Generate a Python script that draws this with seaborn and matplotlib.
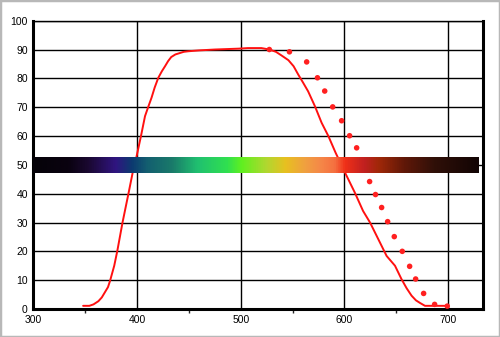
import numpy as np
import matplotlib
matplotlib.use('Agg')
import matplotlib.pyplot as plt
import seaborn as sns
from matplotlib.colors import LinearSegmentedColormap
from matplotlib.patches import Rectangle

# transmission curve (wavelength nm, %)
curve_x = [348, 354, 358, 362.7, 366, 369, 372, 374, 378, 381, 386, 391.6, 396.4,
           399.6, 403.8, 407.7, 411, 414, 417, 420.5, 424, 427, 430, 433, 437,
           441.5, 445, 449.5, 460, 475, 497.7, 507, 520, 527.6, 534, 539.5,
           546, 551, 555.5, 560, 565, 571.6, 578, 584.5, 591.5, 600.6, 610, 618,
           624.7, 632.7, 640.7, 648.8, 655, 660, 664.8, 669, 672.9, 677.7, 700]
curve_y = [1.1, 1.1, 1.6, 2.7, 4.0, 5.8, 7.6, 9.8, 15, 20.2, 30, 39.8, 48.4,
           53, 60, 66.9, 70.3, 73.3, 76.8, 80.2, 82.5, 84.2, 86, 87.4, 88.3,
           88.8, 89.2, 89.4, 89.7, 90, 90.3, 90.5, 90.5, 90, 89.2, 87.9,
           86.3, 84.2, 81.3, 78.6, 75.5, 70.3, 64.6, 60, 54.2, 47.3, 40.4, 34,
           30, 24.2, 18.4, 15, 10.4, 7.2, 4.6, 3.0, 2.1, 1.1, 1.1]

# measured points
dot_x = [527.6, 547, 563.6, 574, 581, 588.7, 597.3, 605, 611.8, 618, 624.3, 630,
         635.9, 641.7, 648.1, 655.8, 662.9, 668.7, 676.4, 687, 699.2]
dot_y = [90, 89.2, 85.7, 80.2, 75.6, 70.1, 65.3, 60.1, 55.9, 50, 44.2, 39.7,
         35.2, 30.3, 25.1, 20, 14.8, 10.4, 5.4, 1.6, 1.0]

# spectrum band colours along wavelength
spec_x = [300, 334, 353, 380, 396, 411, 435, 460, 489, 503, 527, 546, 565, 580,
          594, 604, 623, 637, 662, 691, 734]
spec_c = ['#050208', '#0a0210', '#1a0830', '#301580', '#0c3a70', '#135f70', '#1a7a6a',
          '#20c070', '#30e050', '#60f020', '#b0d830', '#e8c020', '#f0a040', '#f58848',
          '#f57040', '#f03018', '#c02020', '#a02808', '#601808', '#301008', '#120404']

x_ticks = [300, 400, 500, 600, 700]
y_ticks = list(range(0, 101, 10))

sns.set_style('white')
plt.rcParams['font.family'] = ['Liberation Sans', 'DejaVu Sans']

fig = plt.figure(figsize=(5, 3.37), dpi=100)
ax = fig.add_axes([0.0667, 0.0831, 0.9, 0.8555])

sns.lineplot(x=curve_x, y=curve_y, color='#ff1010', linewidth=1.4, ax=ax,
             sort=False, zorder=3)
sns.scatterplot(x=dot_x, y=dot_y, color='#ff2020', s=16, edgecolor='none', ax=ax,
                zorder=3)

# spectrum band drawn over the data
pos = [(v - spec_x[0]) / (spec_x[-1] - spec_x[0]) for v in spec_x]
cmap = LinearSegmentedColormap.from_list('spec', list(zip(pos, spec_c)))
grad = np.linspace(0, 1, 512).reshape(1, -1)
ax.imshow(grad, cmap=cmap, aspect='auto', extent=[300, 730, 47.3, 52.8], zorder=4)

ax.set_xlim(300, 734)
ax.set_ylim(0, 100)
ax.set_xticks(x_ticks)
ax.set_xticks([350, 450, 550, 650], minor=True)
ax.set_yticks(y_ticks)
ax.grid(True, color='black', linewidth=1.0)
ax.set_axisbelow(True)
ax.tick_params(axis='both', labelsize=7.5, colors='black', direction='in')
ax.tick_params(axis='y', length=4, width=1.5, pad=4)
ax.tick_params(axis='x', which='major', length=4, width=1, pad=4)
ax.tick_params(axis='x', which='minor', length=3, width=1, bottom=True)

for side, lw in [('left', 2.2), ('bottom', 2.2), ('right', 2.2), ('top', 1.0)]:
    ax.spines[side].set_color('black')
    ax.spines[side].set_linewidth(lw)

fig.patches.append(Rectangle((0, 0), 1, 1, transform=fig.transFigure, fill=False,
                             edgecolor='#b8b8b8', linewidth=2.5))

fig.savefig('out.png', dpi=100)
